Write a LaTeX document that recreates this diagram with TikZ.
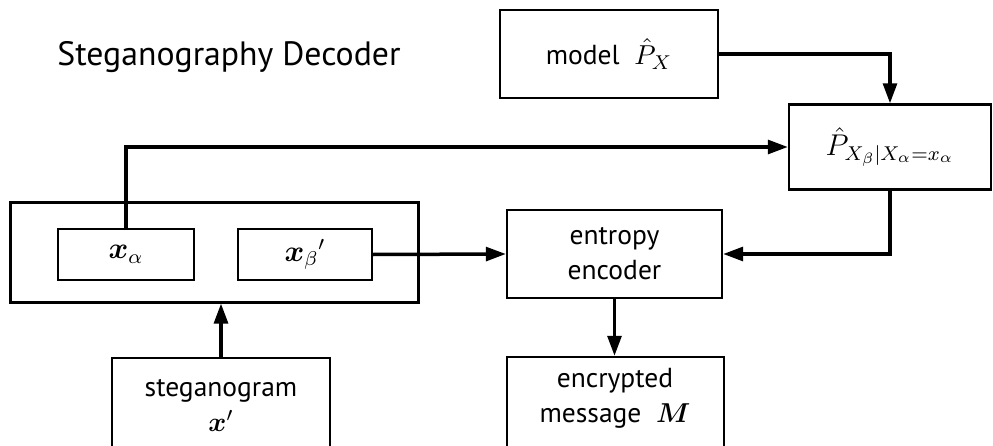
\documentclass[tikz,border=0pt]{standalone}
\usepackage{amsmath}
\usepackage{fontspec}
\setmainfont{PT Sans}
\usetikzlibrary{arrows.meta}
\tikzstyle{every node}=[font=\fontsize{11}{14}\selectfont,align=center,inner sep=0pt]
\tikzstyle{box}=[draw=black,line width=0.9pt,rectangle]
\tikzstyle{arr}=[line width=1.4pt,-{Triangle[length=8pt,width=5.5pt]}]

\begin{document}
\begin{tikzpicture}[x=0.4pt,y=-0.4pt]
  \useasboundingbox (0,0) rectangle (993,446);
  \clip (0,0) rectangle (993,446);
  \node (title) at (229,57) {\fontsize{13.5}{15}\selectfont Steganography Decoder};
  \node[box,minimum width=87.2pt,minimum height=35.2pt] (model) at (609,54) {model\ \ $\hat{P}_X$};
  \node[box,minimum width=80.8pt,minimum height=34pt] (cond) at (890,147)
    {\large $\hat{P}_{X_\beta|X_\alpha{=}x_\alpha}$};
  \node[box,line width=1.2pt,minimum width=162.8pt,minimum height=39.6pt] (cont) at (214.5,252.5) {};
  \node[box,minimum width=54.4pt,minimum height=20.4pt] (xa) at (126,254.5) {\large $\boldsymbol{x}_\alpha$};
  \node[box,minimum width=53.6pt,minimum height=20.4pt] (xb) at (305,254.5) {\large $\boldsymbol{x}_\beta{}'$};
  \node[box,minimum width=86pt,minimum height=35.2pt] (enc) at (614.5,254) {entropy\\encoder};
  \node[box,minimum width=86.8pt,minimum height=45.2pt] (msg) at (615.5,413.5) {};
  \node (msgtxt) at (615,398) {encrypted\\message\ \ $\boldsymbol{M}$};
  \node[box,minimum width=87.2pt,minimum height=44.8pt] (steg) at (221,414) {};
  \node (stegtxt) at (221,405) {steganogram\\$\boldsymbol{x}'$};

  \draw[arr] (model.east) -| (cond.north);
  \draw[arr] (xa.north) |- (cond.west);
  \draw[arr] (xb.east) -- (enc.west);
  \draw[arr] (cond.south) |- (enc.east);
  \draw[arr] (enc.south) -- (enc.south |- msg.north);
  \draw[arr] (steg.north) -- (steg.north |- cont.south);
\end{tikzpicture}
\end{document}
